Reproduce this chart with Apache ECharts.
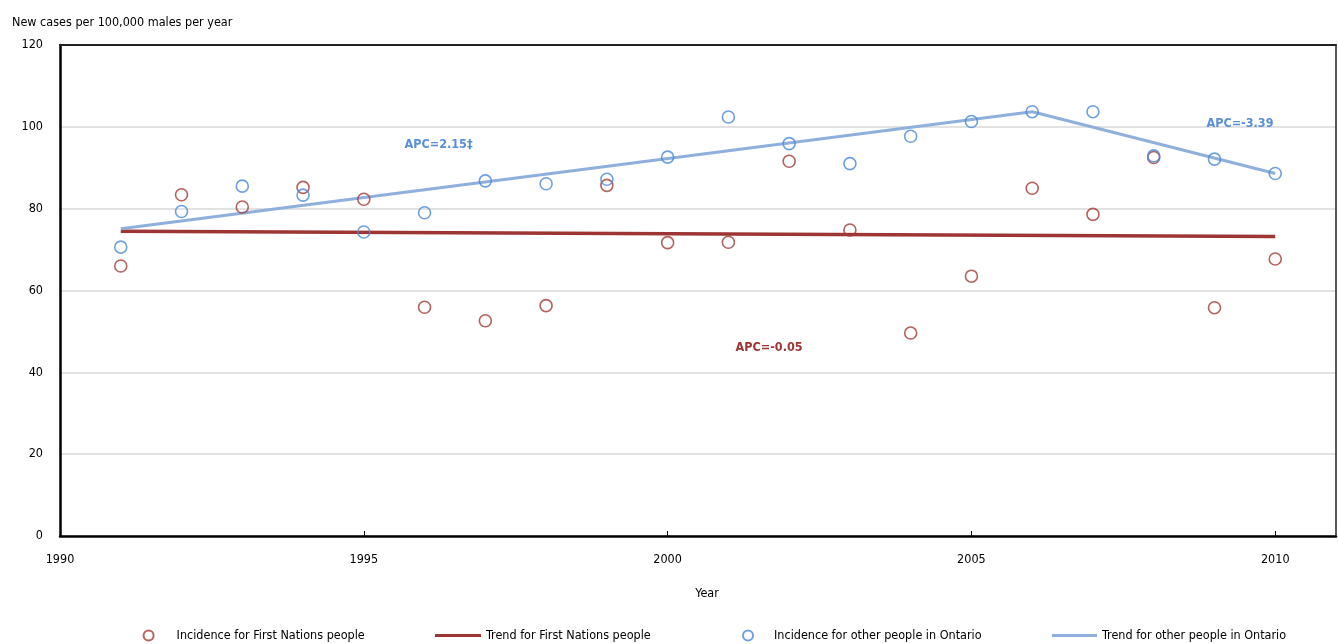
<!DOCTYPE html>
<html lang="en">
<head>
    <meta charset="UTF-8">
    <title>Incidence trend</title>
    <script src="https://cdn.jsdelivr.net/npm/echarts@6/dist/echarts.min.js"></script>
    <style>
        html, body { margin: 0; padding: 0; background: #fff; }
    </style>
</head>
<body>
    <div id="main" style="width: 1338px;height:644px;"></div>

<script type="text/javascript">
    // years and observed rates
    var years = [1991, 1992, 1993, 1994, 1995, 1996, 1997, 1998, 1999, 2000,
                 2001, 2002, 2003, 2004, 2005, 2006, 2007, 2008, 2009, 2010];
    var firstNations = [66.0, 83.4, 80.4, 85.2, 82.3, 55.9, 52.6, 56.3, 85.7, 71.7,
                        71.8, 91.6, 74.8, 49.6, 63.5, 85.0, 78.6, 92.5, 55.8, 67.7];
    var otherOntario = [70.6, 79.3, 85.5, 83.3, 74.3, 79.0, 86.8, 86.1, 87.2, 92.6,
                        102.4, 95.9, 91.0, 97.7, 101.3, 103.7, 103.7, 92.9, 92.1, 88.6];

    // fitted trend (joinpoints)
    var trendFNYears = [1991, 2010];
    var trendFN = [74.5, 73.2];
    var trendOtherYears = [1991, 2006, 2010];
    var trendOther = [75.1, 103.7, 88.6];

    var yTicks = [0, 20, 40, 60, 80, 100, 120];
    var xTicks = [1990, 1995, 2000, 2005, 2010];

    var names = ['Incidence for First Nations people', 'Trend for First Nations people',
                 'Incidence for other people in Ontario', 'Trend for other people in Ontario'];

    function pairs(xs, ys) {
        return xs.map(function (x, i) { return [x, ys[i]]; });
    }

    var FONT = "'DejaVu Sans Condensed', 'DejaVu Sans', sans-serif";
    var FS = 12.5;
    var red = '#9c3533';
    var redDot = '#a33a36';
    var blueDot = '#4a88da';
    var blueLine = '#8fb0dc';
    var blueText = '#5a8fd8';

    function circleLegend(name, left, w) {
        return {
            data: [{ name: name, icon: 'circle' }],
            left: left, top: 624,
            itemWidth: w, itemHeight: 10,
            selectedMode: false,
            textStyle: { fontFamily: FONT, fontSize: FS, color: '#000' }
        };
    }
    function lineLegend(name, left, w) {
        return {
            data: [{ name: name, icon: 'rect' }],
            left: left, top: 624,
            itemWidth: w, itemHeight: 3,
            selectedMode: false,
            textStyle: { fontFamily: FONT, fontSize: FS, color: '#000' }
        };
    }

    var myChart = echarts.init(document.getElementById('main'));
    var option = {
        animation: false,
        backgroundColor: '#fff',
        textStyle: { fontFamily: FONT },
        title: {
            text: 'New cases per 100,000 males per year',
            left: 7,
            top: 11,
            textStyle: { fontFamily: FONT, fontSize: FS, fontWeight: 'normal', color: '#000' }
        },
        legend: [
            circleLegend(names[0], 137.6, 46),
            lineLegend(names[1], 430, 46),
            circleLegend(names[2], 737, 42),
            lineLegend(names[3], 1047, 45)
        ],
        grid: { left: 60, right: 2, top: 45, bottom: 108 },
        xAxis: [{
            type: 'value',
            min: 1990, max: 2011, interval: 5,
            name: 'Year',
            nameLocation: 'middle',
            nameGap: 51,
            nameTextStyle: { fontFamily: FONT, fontSize: FS, color: '#000', padding: [0, 0, 0, 18] },
            axisLine: { lineStyle: { color: '#000', width: 2.5 } },
            axisTick: { inside: true, length: 5, lineStyle: { color: '#000', width: 1 } },
            axisLabel: {
                fontFamily: FONT, fontSize: FS, color: '#000', margin: 17,
                showMaxLabel: false,
                formatter: function (v) { return xTicks.indexOf(v) >= 0 ? String(v) : ''; }
            },
            splitLine: { show: false }
        }, {
            // top frame line
            type: 'value', position: 'top', z: 10,
            min: 1990, max: 2011,
            axisLine: { show: true, onZero: false, lineStyle: { color: '#222', width: 2 } },
            axisTick: { show: false }, axisLabel: { show: false }, splitLine: { show: false }
        }],
        yAxis: [{
            type: 'value',
            min: 0, max: 120, interval: 20,
            axisLine: { show: true, lineStyle: { color: '#000', width: 2.5 } },
            axisTick: { show: false },
            axisLabel: {
                fontFamily: FONT, fontSize: FS, color: '#000', margin: 17,
                formatter: function (v) { return yTicks.indexOf(v) >= 0 ? String(v) : ''; }
            },
            splitLine: { lineStyle: { color: '#d9d9d9', width: 1.5 } }
        }, {
            // right frame line
            type: 'value', position: 'right', z: 10,
            min: 0, max: 120,
            axisLine: { show: true, onZero: false, lineStyle: { color: '#222', width: 1.5 } },
            axisTick: { show: false }, axisLabel: { show: false }, splitLine: { show: false }
        }],
        series: [
            {
                name: names[0],
                type: 'scatter',
                data: pairs(years, firstNations),
                symbol: 'circle',
                symbolSize: 12,
                itemStyle: { color: 'rgba(255,255,255,0)', borderColor: redDot, borderWidth: 1.6 },
                z: 3
            },
            {
                name: names[1],
                type: 'line',
                data: pairs(trendFNYears, trendFN),
                symbol: 'none',
                lineStyle: { color: red, width: 3.5 },
                itemStyle: { color: red },
                z: 2,
                markPoint: {
                    symbol: 'circle', symbolSize: 0,
                    data: [{ coord: [2001.67, 45.9], value: 'APC=-0.05' }],
                    label: {
                        show: true, position: 'inside', formatter: '{c}',
                        fontFamily: FONT, fontSize: FS, fontWeight: 'bold', color: red
                    }
                }
            },
            {
                name: names[2],
                type: 'scatter',
                data: pairs(years, otherOntario),
                symbol: 'circle',
                symbolSize: 12,
                itemStyle: { color: 'rgba(255,255,255,0)', borderColor: blueDot, borderWidth: 1.6 },
                z: 4
            },
            {
                name: names[3],
                type: 'line',
                data: pairs(trendOtherYears, trendOther),
                symbol: 'none',
                lineStyle: { color: blueLine, width: 3 },
                itemStyle: { color: blueLine },
                z: 2,
                markPoint: {
                    symbol: 'circle', symbolSize: 0,
                    data: [
                        { coord: [1996.23, 95.6], value: 'APC=2.15‡' },
                        { coord: [2009.42, 100.85], value: 'APC=-3.39' }
                    ],
                    label: {
                        show: true, position: 'inside', formatter: '{c}',
                        fontFamily: FONT, fontSize: FS, fontWeight: 'bold', color: blueText
                    }
                }
            }
        ]
    };
    myChart.setOption(option);
</script>
</body>
</html>
